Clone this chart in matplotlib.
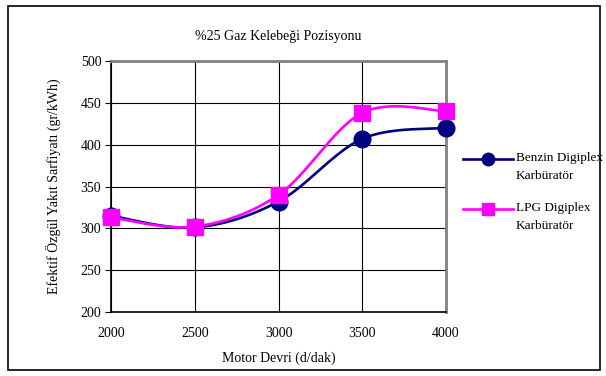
import numpy as np
import matplotlib.pyplot as plt
from matplotlib.lines import Line2D

plt.rcParams['font.family'] = ['Liberation Serif', 'DejaVu Serif']

# Motor devri ve ozgul yakit sarfiyati degerleri
devir = [2000, 2500, 3000, 3500, 4000]
benzin = [315, 301, 332, 407, 420]
lpg = [313, 302, 340, 438, 440]


def smooth(xs, ys, n=40):
    # Catmull-Rom benzeri bezier ile yumusatilmis cizgi
    xs = np.asarray(xs, float)
    ys = np.asarray(ys, float)
    px = np.concatenate([[xs[0]], xs, [xs[-1]]])
    py = np.concatenate([[ys[0]], ys, [ys[-1]]])
    outx, outy = [], []
    t = np.linspace(0, 1, n)
    for i in range(1, len(px) - 2):
        p0 = np.array([px[i], py[i]])
        p3 = np.array([px[i + 1], py[i + 1]])
        p1 = p0 + (np.array([px[i + 1], py[i + 1]]) - np.array([px[i - 1], py[i - 1]])) / 6
        p2 = p3 - (np.array([px[i + 2], py[i + 2]]) - np.array([px[i], py[i]])) / 6
        b = ((1 - t) ** 3)[:, None] * p0 + (3 * (1 - t) ** 2 * t)[:, None] * p1 \
            + (3 * (1 - t) * t ** 2)[:, None] * p2 + (t ** 3)[:, None] * p3
        outx.extend(b[:, 0])
        outy.extend(b[:, 1])
    return outx, outy


W, H = 606, 376
fig = plt.figure(figsize=(W / 100, H / 100), dpi=100)
fig.patches.append(plt.Rectangle((8 / W, 6 / H), 592 / W, 364 / H,
                                 transform=fig.transFigure, fill=False,
                                 edgecolor='black', linewidth=1.2))

ax = fig.add_axes([111 / W, 64 / H, 335 / W, 251 / H])

navy = '#000080'
mag = '#FF00FF'

sx, sy = smooth(devir, benzin)
ax.plot(sx, sy, color=navy, linewidth=1.9, zorder=3, clip_on=False)
ax.plot(devir, benzin, 'o', color=navy, markersize=12, zorder=4, clip_on=False)

sx, sy = smooth(devir, lpg)
ax.plot(sx, sy, color=mag, linewidth=1.9, zorder=5, clip_on=False)
ax.plot(devir, lpg, 's', color=mag, markersize=12, zorder=6, clip_on=False)

ax.set_xlim(2000, 4000)
ax.set_ylim(200, 500)
ax.set_xticks(devir)
ax.set_yticks(range(200, 501, 50))
ax.grid(True, color='black', linewidth=0.8)
ax.set_axisbelow(True)

for s in ['top', 'right']:
    ax.spines[s].set_color('#808080')
    ax.spines[s].set_linewidth(2)
for s in ['left', 'bottom']:
    ax.spines[s].set_color('black')
    ax.spines[s].set_linewidth(1.2)

ax.tick_params(axis='y', direction='out', length=4, labelsize=10, pad=3)
ax.tick_params(axis='x', direction='out', length=0, labelsize=10, pad=11)

ax.set_title('%25 Gaz Kelebeği Pozisyonu', fontsize=10, pad=15)
ax.set_xlabel('Motor Devri (d/dak)', fontsize=10, labelpad=8)
ax.set_ylabel('Efektif Özgül Yakıt Sarfiyatı (gr/kWh)', fontsize=10, labelpad=14)

# lejant: cizgi + isaret + iki satirlik metin
entries = [
    (navy, 'o', 9, 'Benzin Digiplex\nKarbüratör', 159),
    (mag, 's', 8.5, 'LPG Digiplex\nKarbüratör', 209),
]
for color, marker, ms, label, ypx in entries:
    fig.add_artist(Line2D([463 / W, 513 / W], [1 - ypx / H] * 2,
                          transform=fig.transFigure, color=color, linewidth=1.9))
    fig.add_artist(Line2D([488 / W], [1 - ypx / H], transform=fig.transFigure,
                          color=color, marker=marker, markersize=ms))
    fig.text(516 / W, 1 - (ypx - 7) / H, label, fontsize=9.5, va='top',
             ha='left', linespacing=1.7)

fig.savefig('out.png', dpi=100)
